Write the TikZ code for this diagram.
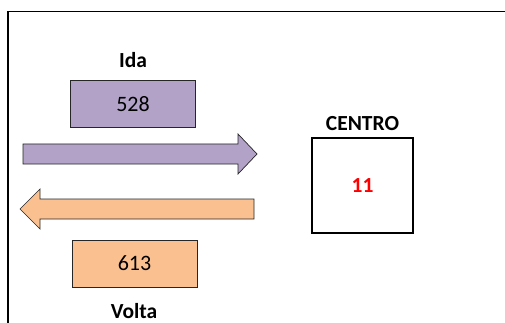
\documentclass[tikz,border=0pt]{standalone}
\usepackage{fontspec}
\setmainfont{Carlito}
\usetikzlibrary{positioning}
\definecolor{idaviolet}{HTML}{B2A2C7}
\definecolor{voltaorange}{HTML}{FAC090}
\tikzset{
  countbox/.style={draw=black!85, line width=0.7pt, minimum width=125pt, minimum height=47pt, inner sep=0pt, font=\fontsize{22}{24}\selectfont},
  title/.style={font=\fontsize{21.5}{23}\selectfont\bfseries, inner sep=0pt},
  flowarrow/.style={draw=black!85, line width=0.7pt}
}
\begin{document}
\begin{tikzpicture}[x=1pt,y=-1pt]
\useasboundingbox (0,0) rectangle (505,323);
\clip (0,0) rectangle (505,323);
\fill[white] (0,0) rectangle (505,323);
% frame
\draw[line width=1.4pt] (8,340) -- (8,11.5);
\draw[line width=1.2pt] (7.3,11.5) -- (520,11.5);
% ida
\node[countbox, fill=idaviolet] (ida) at (133,104) {528};
\node[title] (idalabel) at (133,60) {Ida};
\draw[flowarrow, fill=idaviolet] (23,144) -- (238,144) -- (238,134) -- (257,154)
  -- (238,174) -- (238,164) -- (23,164) -- cycle;
% volta
\draw[flowarrow, fill=voltaorange] (254,199) -- (40,199) -- (40,189) -- (20,209)
  -- (40,229) -- (40,219) -- (254,219) -- cycle;
\node[countbox, fill=voltaorange] (volta) at (134.5,263.5) {613};
\node[title] (voltalabel) at (134,311.5) {Volta};
% centro
\node[draw, line width=1.5pt, minimum width=101pt, minimum height=95pt, inner sep=0pt,
  font=\fontsize{21.5}{23}\selectfont\bfseries, text=red] (centro) at (362.5,185.5) {11};
\node[title, above=6pt of centro] (centrolabel) {CENTRO};
\end{tikzpicture}
\end{document}
